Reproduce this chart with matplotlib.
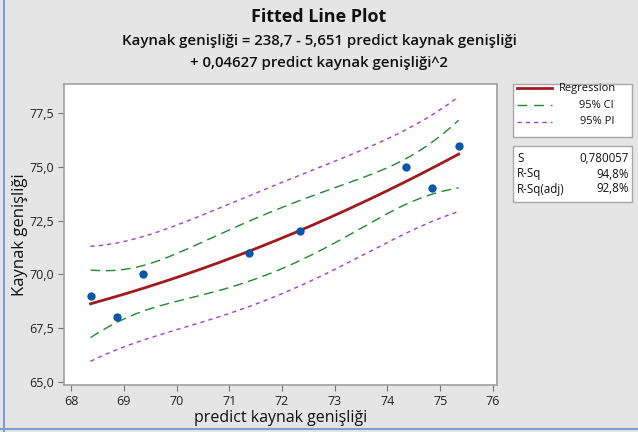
import numpy as np
import matplotlib
matplotlib.use("Agg")
import matplotlib.pyplot as plt
from matplotlib.lines import Line2D
from matplotlib.patches import Rectangle

plt.rcParams['font.family'] = ['Open Sans', 'DejaVu Sans']

# --- Data ---
x_pred = [68.37, 68.87, 69.37, 71.37, 72.35, 74.35, 74.85, 75.35]
y_obs = [69.0, 68.0, 70.0, 71.0, 72.0, 75.0, 74.0, 76.0]
coef = [238.7, -5.651, 0.04627]   # b0, b1, b2 from the title
s_value = 0.780057
t_crit = 2.776                     # t(0.975, df=4)
x_ticks = [68, 69, 70, 71, 72, 73, 74, 75, 76]
y_ticks = [65.0, 67.5, 70.0, 72.5, 75.0, 77.5]
stats_rows = [("S", "0,780057"), ("R-Sq", "94,8%"), ("R-Sq(adj)", "92,8%")]

BG = '#e5e5e5'
RED = '#a11a1f'
GREEN = '#1f8b2c'
PURPLE = '#a03cd2'
BLUE = '#0a56a8'

# --- Fit curve and bands ---
xa = np.array(x_pred)
X = np.column_stack([np.ones_like(xa), xa, xa ** 2])
xtx_inv = np.linalg.inv(X.T @ X)
xg = np.linspace(xa.min(), xa.max(), 200)
Xg = np.column_stack([np.ones_like(xg), xg, xg ** 2])
fit = Xg @ np.array(coef)
h = np.einsum('ij,jk,ik->i', Xg, xtx_inv, Xg)
ci = t_crit * s_value * np.sqrt(h)
pi = t_crit * s_value * np.sqrt(1 + h)

fig = plt.figure(figsize=(6.38, 4.32), dpi=100, facecolor=BG)
W, H = 638, 432
ax = fig.add_axes([64 / W, 1 - 385 / H, 433 / W, 301 / H])
ax.set_facecolor('white')

ax.plot(xg, fit, color=RED, lw=2.0, zorder=3)
ax.plot(xg, fit + ci, color=GREEN, lw=1.0, dashes=(7, 4), zorder=2)
ax.plot(xg, fit - ci, color=GREEN, lw=1.0, dashes=(7, 4), zorder=2)
ax.plot(xg, fit + pi, color=PURPLE, lw=1.0, dashes=(3, 3), zorder=2)
ax.plot(xg, fit - pi, color=PURPLE, lw=1.0, dashes=(3, 3), zorder=2)
ax.scatter(x_pred, y_obs, s=36, color=BLUE, zorder=4, linewidths=0)

ax.set_xlim(67.867, 76.076)
ax.set_ylim(64.846, 78.865)
ax.set_xticks(x_ticks)
ax.set_xticklabels([str(v) for v in x_ticks])
ax.set_yticks(y_ticks)
ax.set_yticklabels([f"{v:.1f}".replace('.', ',') for v in y_ticks])
ax.tick_params(direction='out', length=4, width=0.8, color='#777777',
               labelsize=9, labelcolor='#222222')
for sp in ax.spines.values():
    sp.set_color('#a0a0a0')
    sp.set_linewidth(1.2)

ax.set_xlabel("predict kaynak genişliği", fontsize=11.5, color='#111111')
ax.xaxis.set_label_coords(0.5, -(418 - 385) / 301, transform=ax.transAxes)
ax.xaxis.label.set_va('center')
ax.set_ylabel("Kaynak genişliği", fontsize=12, color='#111111')
ax.yaxis.set_label_coords(-(64 - 20) / 433, 0.5, transform=ax.transAxes)
ax.yaxis.label.set_va('center')

# --- Titles ---
fig.text(0.5, 1 - 17 / H, "Fitted Line Plot", ha='center', va='center',
         fontsize=13, fontweight='bold', color='#111111')
fig.text(0.5, 1 - 41 / H, "Kaynak genişliği = 238,7 - 5,651 predict kaynak genişliği",
         ha='center', va='center', fontsize=10.8, fontweight='semibold', color='#111111')
fig.text(0.5, 1 - 63 / H, "+ 0,04627 predict kaynak genişliği^2",
         ha='center', va='center', fontsize=10.8, fontweight='semibold', color='#111111')

# --- Legend box ---
def px(x, y):
    return x / W, 1 - y / H

fig.patches.append(Rectangle(px(513, 137), 119 / W, 53 / H, transform=fig.transFigure,
                             facecolor='white', edgecolor='#a8a8a8', lw=1.0))
fig.lines.append(Line2D([517 / W, 552 / W], [1 - 88 / H] * 2, transform=fig.transFigure,
                        color=RED, lw=2.0))
fig.lines.append(Line2D([517 / W, 552 / W], [1 - 105 / H] * 2, transform=fig.transFigure,
                        color=GREEN, lw=1.0, dashes=(7, 5)))
fig.lines.append(Line2D([517 / W, 552 / W], [1 - 122 / H] * 2, transform=fig.transFigure,
                        color=PURPLE, lw=1.0, dashes=(3, 3)))
fig.text(*px(559, 88), "Regression", ha='left', va='center', fontsize=8, color='#111111')
fig.text(*px(614, 105), "95% CI", ha='right', va='center', fontsize=8, color='#111111')
fig.text(*px(614, 122), "95% PI", ha='right', va='center', fontsize=8, color='#111111')

# --- Stats box ---
fig.patches.append(Rectangle(px(513, 202), 119 / W, 56 / H, transform=fig.transFigure,
                             facecolor='white', edgecolor='#a8a8a8', lw=1.0))
for i, (lab, val) in enumerate(stats_rows):
    yy = 159 + 15 * i
    fig.text(*px(517, yy), lab, ha='left', va='center', fontsize=8.3, color='#111111')
    fig.text(*px(629, yy), val, ha='right', va='center', fontsize=8.3, color='#111111')

# window border from the screenshot
fig.lines.append(Line2D([4 / W, 4 / W], [0, 1], transform=fig.transFigure,
                        color='#7a9fd0', lw=1.5))
fig.lines.append(Line2D([0, 1], [1 - 429 / H] * 2, transform=fig.transFigure,
                        color='#7a9fd0', lw=1.5))

fig.savefig("out.png", dpi=100, facecolor=BG)
